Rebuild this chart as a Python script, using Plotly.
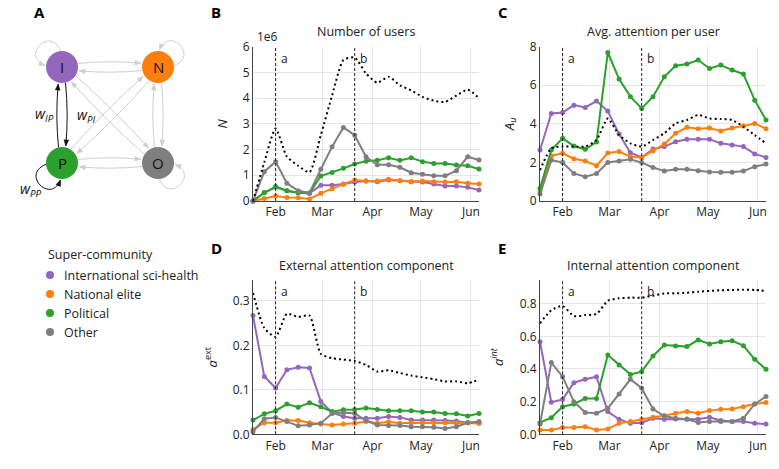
import math
import pandas as pd
import plotly.graph_objects as go

W, H = 779, 469

# ---------------- data ----------------
dates = pd.date_range("2020-01-18", periods=21, freq="7D")
month_ticks = ["2020-02-01", "2020-03-01", "2020-04-01", "2020-05-01", "2020-06-01"]
month_labels = ["Feb", "Mar", "Apr", "May", "Jun"]
event_dates = ["2020-02-01", "2020-03-21"]
event_labels = ["a", "b"]

groups = ["International sci-health", "National elite", "Political", "Other"]
colors = ["#9467bd", "#ff7f0e", "#2ca02c", "#7f7f7f"]

# B: number of users (x1e6)
users_intl = [0.0, 0.33, 0.53, 0.40, 0.32, 0.30, 0.61, 0.61, 0.66, 0.74, 0.78, 0.75, 0.82, 0.79, 0.75, 0.74, 0.66, 0.58, 0.58, 0.53, 0.43]
users_nat = [0.0, 0.10, 0.19, 0.14, 0.13, 0.08, 0.30, 0.48, 0.65, 0.82, 0.78, 0.78, 0.85, 0.79, 0.75, 0.78, 0.75, 0.74, 0.75, 0.69, 0.66]
users_pol = [0.0, 0.32, 0.56, 0.40, 0.32, 0.30, 0.97, 1.11, 1.27, 1.44, 1.55, 1.58, 1.68, 1.58, 1.68, 1.53, 1.46, 1.46, 1.40, 1.37, 1.24]
users_oth = [0.0, 1.14, 1.53, 0.69, 0.40, 0.32, 1.23, 2.11, 2.86, 2.56, 1.72, 1.41, 1.41, 1.31, 1.10, 1.04, 0.98, 0.98, 1.18, 1.72, 1.59]
users_total = [0.0, 1.50, 2.82, 1.72, 1.37, 1.12, 2.56, 4.10, 5.48, 5.58, 4.96, 4.60, 4.83, 4.50, 4.30, 4.05, 3.90, 3.85, 4.10, 4.33, 4.00]

# C: average attention per user
att_intl = [2.64, 4.54, 4.59, 4.97, 4.85, 5.18, 4.66, 3.47, 2.50, 2.26, 2.69, 2.82, 3.07, 3.20, 3.20, 3.20, 2.99, 2.90, 2.82, 2.44, 2.26]
att_nat = [0.52, 2.35, 2.47, 2.19, 2.07, 1.83, 2.49, 2.56, 2.30, 2.26, 2.61, 2.95, 3.51, 3.82, 3.75, 3.78, 3.63, 3.78, 3.89, 4.02, 3.75]
att_pol = [0.66, 2.64, 3.25, 2.85, 2.68, 3.06, 7.70, 6.32, 5.41, 4.80, 5.41, 6.44, 7.01, 7.10, 7.31, 6.87, 7.05, 6.79, 6.58, 5.23, 4.20]
att_oth = [0.36, 2.12, 2.00, 1.43, 1.26, 1.42, 2.00, 2.07, 2.16, 1.99, 1.74, 1.55, 1.64, 1.64, 1.57, 1.50, 1.49, 1.49, 1.55, 1.78, 1.92]
att_total = [1.60, 2.73, 2.82, 2.82, 2.82, 3.16, 4.28, 3.42, 2.99, 2.82, 3.16, 3.51, 4.02, 4.20, 4.46, 4.28, 4.25, 4.20, 3.85, 3.42, 2.99]

# D: external attention component
ext_intl = [0.267, 0.130, 0.104, 0.145, 0.151, 0.149, 0.074, 0.049, 0.040, 0.036, 0.036, 0.036, 0.040, 0.038, 0.032, 0.032, 0.032, 0.031, 0.030, 0.026, 0.025]
ext_nat = [0.011, 0.026, 0.026, 0.031, 0.031, 0.026, 0.023, 0.021, 0.023, 0.025, 0.029, 0.025, 0.028, 0.025, 0.026, 0.026, 0.026, 0.026, 0.025, 0.026, 0.025]
ext_pol = [0.032, 0.046, 0.053, 0.068, 0.061, 0.071, 0.062, 0.051, 0.055, 0.056, 0.059, 0.056, 0.053, 0.053, 0.053, 0.050, 0.050, 0.047, 0.046, 0.041, 0.047]
ext_oth = [0.006, 0.035, 0.038, 0.029, 0.019, 0.021, 0.025, 0.047, 0.049, 0.047, 0.031, 0.021, 0.020, 0.020, 0.017, 0.017, 0.016, 0.013, 0.017, 0.026, 0.029]
ext_total = [0.318, 0.239, 0.219, 0.271, 0.264, 0.267, 0.181, 0.171, 0.168, 0.165, 0.156, 0.141, 0.144, 0.138, 0.132, 0.128, 0.124, 0.119, 0.119, 0.115, 0.123]

# E: internal attention component
int_intl = [0.567, 0.196, 0.214, 0.316, 0.337, 0.353, 0.139, 0.092, 0.067, 0.071, 0.098, 0.092, 0.094, 0.094, 0.092, 0.104, 0.084, 0.078, 0.078, 0.067, 0.063]
int_nat = [0.027, 0.027, 0.041, 0.041, 0.047, 0.027, 0.033, 0.067, 0.078, 0.092, 0.104, 0.114, 0.129, 0.139, 0.129, 0.145, 0.153, 0.155, 0.169, 0.186, 0.194]
int_pol = [0.071, 0.102, 0.169, 0.186, 0.220, 0.220, 0.486, 0.424, 0.367, 0.384, 0.480, 0.547, 0.541, 0.537, 0.578, 0.553, 0.567, 0.573, 0.543, 0.459, 0.398]
int_oth = [0.063, 0.439, 0.353, 0.200, 0.133, 0.129, 0.159, 0.247, 0.337, 0.282, 0.155, 0.112, 0.098, 0.092, 0.073, 0.078, 0.078, 0.078, 0.098, 0.186, 0.231]
int_total = [0.680, 0.760, 0.786, 0.724, 0.730, 0.737, 0.818, 0.833, 0.837, 0.837, 0.849, 0.863, 0.863, 0.867, 0.873, 0.878, 0.882, 0.884, 0.886, 0.884, 0.878]

panels = [
    dict(series=[users_intl, users_nat, users_pol, users_oth], total=users_total,
         title="Number of users", ytitle="<i>N</i>", yrange=[0, 6], dtick=1, fmt="d", letter="B"),
    dict(series=[att_intl, att_nat, att_pol, att_oth], total=att_total,
         title="Avg. attention per user", ytitle="<i>A<sub>u</sub></i>", yrange=[0, 8], dtick=2, fmt="d", letter="C"),
    dict(series=[ext_intl, ext_nat, ext_pol, ext_oth], total=ext_total,
         title="External attention component", ytitle="<i>a</i><sup>ext</sup>", yrange=[0, 0.347], dtick=0.1, fmt=".1f", letter="D"),
    dict(series=[int_intl, int_nat, int_pol, int_oth], total=int_total,
         title="Internal attention component", ytitle="<i>a<sup>int</sup></i>", yrange=[0, 0.945], dtick=0.2, fmt=".1f", letter="E"),
]

# ---------------- layout geometry (pixels) ----------------
col_x = [(253, 479), (540, 766)]
row_y = [(46.7, 201), (280, 434.3)]
letter_top = [0, 236]
cells = [(0, 0), (1, 0), (0, 1), (1, 1)]
title_standoff = [12, 12, 12, 13]

FONT = "Open Sans, Noto Sans, DejaVu Sans, sans-serif"
fig = go.Figure()
layout = dict(width=W, height=H, autosize=False, margin=dict(l=0, r=0, t=0, b=0),
              paper_bgcolor="white", plot_bgcolor="white", showlegend=False,
              font=dict(family=FONT, size=12, color="#222"))
annotations = []
shapes = []

for i, p in enumerate(panels):
    c, r = cells[i]
    xa = "x" if i == 0 else f"x{i+1}"
    ya = "y" if i == 0 else f"y{i+1}"
    xk = "xaxis" if i == 0 else f"xaxis{i+1}"
    yk = "yaxis" if i == 0 else f"yaxis{i+1}"
    x0, x1 = col_x[c]
    y0, y1 = row_y[r]
    layout[xk] = dict(domain=[x0 / W, x1 / W], range=[dates[0], dates[-1]], anchor=ya,
                      tickvals=month_ticks, ticktext=month_labels, showgrid=True,
                      gridcolor="#e6e6e6", showline=True, linecolor="#444", linewidth=1,
                      ticks="", zeroline=False, tickfont=dict(size=12, color="#222"), automargin=False)
    layout[yk] = dict(domain=[1 - y1 / H, 1 - y0 / H], range=p["yrange"], anchor=xa,
                      dtick=p["dtick"], tick0=0, tickformat=p["fmt"], showgrid=True,
                      gridcolor="#e6e6e6", showline=True, linecolor="#444", linewidth=1,
                      ticks="", zeroline=False, tickfont=dict(size=12, color="#222"), automargin=False,
                      title=dict(text=p["ytitle"], font=dict(size=13), standoff=title_standoff[i]))
    for s, col in zip(p["series"], colors):
        fig.add_trace(go.Scatter(x=dates, y=s, mode="lines+markers", xaxis=xa, yaxis=ya,
                                 line=dict(color=col, width=2), marker=dict(color=col, size=5),
                                 cliponaxis=False, hoverinfo="skip"))
    fig.add_trace(go.Scatter(x=dates, y=p["total"], mode="lines", xaxis=xa, yaxis=ya,
                             line=dict(color="black", width=2, dash="2px,3px", shape="spline", smoothing=0.6),
                             cliponaxis=False, hoverinfo="skip"))
    for d, lab in zip(event_dates, event_labels):
        shapes.append(dict(type="line", xref=xa, yref=f"{ya} domain", x0=d, x1=d, y0=0, y1=1,
                           line=dict(color="#222", width=1, dash="3px,2px")))
        annotations.append(dict(xref=xa, yref=f"{ya} domain", x=d, y=1, xanchor="left", yanchor="top",
                                xshift=3, yshift=-1, text=lab, showarrow=False, font=dict(size=12)))
    annotations.append(dict(xref="paper", yref="paper", x=(x0 + x1) / 2 / W, y=1 - (y0 - 15) / H,
                            text=p["title"], showarrow=False, xanchor="center", yanchor="middle",
                            font=dict(size=12.5)))
    annotations.append(dict(xref="paper", yref="paper", x=(x0 - 44) / W, y=1 - letter_top[r] / H,
                            text=f"<b>{p['letter']}</b>", showarrow=False, xanchor="left", yanchor="top",
                            font=dict(size=15, color="black")))

annotations.append(dict(xref="paper", yref="paper", x=255 / W, y=1 - 37 / H, text="1e6",
                        showarrow=False, xanchor="left", yanchor="middle", font=dict(size=12)))
annotations.append(dict(xref="paper", yref="paper", x=32 / W, y=1, text="<b>A</b>",
                        showarrow=False, xanchor="left", yanchor="top", font=dict(size=15, color="black")))

# ---------------- diagram (panel A) + legend, pixel-like axes ----------------
layout["xaxis5"] = dict(domain=[0, 200 / W], range=[0, 200], visible=False, fixedrange=True, anchor="y5")
layout["yaxis5"] = dict(domain=[1 - 360 / H, 1], range=[360, 0], visible=False, fixedrange=True, anchor="x5")

node_names = ["I", "N", "P", "O"]
node_pos = {"I": (62, 67), "N": (158, 67), "P": (62, 163), "O": (158, 163)}
node_color = {"I": colors[0], "N": colors[1], "P": colors[2], "O": colors[3]}
R = 16
loop_dir = {"I": 225, "N": 315, "O": 45, "P": 135}
dark_edges = {("I", "P"), ("P", "I"), ("P", "P")}
GREY = "#cfcfcf"


def head(x, y, tx, ty, col):
    L = math.hypot(tx, ty)
    ux, uy = tx / L, ty / L
    bx, by = x - 6 * ux, y - 6 * uy
    lx, ly = bx + 2.4 * uy, by - 2.4 * ux
    rx, ry = bx - 2.4 * uy, by + 2.4 * ux
    shapes.append(dict(type="path", xref="x5", yref="y5", layer="below",
                       path=f"M {x:.2f},{y:.2f} L {lx:.2f},{ly:.2f} L {rx:.2f},{ry:.2f} Z",
                       fillcolor=col, line=dict(color=col, width=0.5)))


for a in node_names:
    for b in node_names:
        col = "#111" if (a, b) in dark_edges else GREY
        if a == b:
            cx, cy = node_pos[a]
            phi = math.radians(loop_dir[a])
            al, be, D = math.radians(40), math.radians(30), 43
            s = (cx + R * math.cos(phi + al), cy + R * math.sin(phi + al))
            e = (cx + (R + 1) * math.cos(phi - al), cy + (R + 1) * math.sin(phi - al))
            c1 = (cx + D * math.cos(phi + be), cy + D * math.sin(phi + be))
            c2 = (cx + D * math.cos(phi - be), cy + D * math.sin(phi - be))
            shapes.append(dict(type="path", xref="x5", yref="y5", layer="below",
                               path=f"M {s[0]:.2f},{s[1]:.2f} C {c1[0]:.2f},{c1[1]:.2f} {c2[0]:.2f},{c2[1]:.2f} {e[0]:.2f},{e[1]:.2f}",
                               line=dict(color=col, width=1)))
            head(e[0], e[1], e[0] - c2[0], e[1] - c2[1], col)
            continue
        x0, y0 = node_pos[a]
        x1, y1 = node_pos[b]
        L = math.hypot(x1 - x0, y1 - y0)
        ux, uy = (x1 - x0) / L, (y1 - y0) / L
        nx, ny = uy, -ux
        t = 0.22
        ct, st = math.cos(t), math.sin(t)
        s = (x0 + R * (ux * ct + nx * st), y0 + R * (uy * ct + ny * st))
        e = (x1 + (R + 1.5) * (-ux * ct + nx * st), y1 + (R + 1.5) * (-uy * ct + ny * st))
        m = ((s[0] + e[0]) / 2 + nx * 3, (s[1] + e[1]) / 2 + ny * 3)
        shapes.append(dict(type="path", xref="x5", yref="y5", layer="below",
                           path=f"M {s[0]:.2f},{s[1]:.2f} Q {m[0]:.2f},{m[1]:.2f} {e[0]:.2f},{e[1]:.2f}",
                           line=dict(color=col, width=1)))
        head(e[0], e[1], e[0] - m[0], e[1] - m[1], col)

for n in node_names:
    cx, cy = node_pos[n]
    shapes.append(dict(type="circle", xref="x5", yref="y5", x0=cx - R, x1=cx + R, y0=cy - R, y1=cy + R,
                       fillcolor=node_color[n], line=dict(width=0), layer="above"))
    annotations.append(dict(x=cx, y=cy, xref="x5", yref="y5", text=n, showarrow=False,
                            font=dict(size=15, color="#111"), xanchor="center", yanchor="middle"))

edge_labels = ["<i>w</i><sub><i>IP</i></sub>", "<i>w</i><sub><i>PI</i></sub>", "<i>w</i><sub><i>PP</i></sub>"]
edge_label_pos = [(44, 114), (86, 115), (31, 189)]
for lab, (lx, ly) in zip(edge_labels, edge_label_pos):
    annotations.append(dict(x=lx, y=ly, xref="x5", yref="y5", text=lab, showarrow=False,
                            font=dict(size=14, color="#111"), xanchor="center", yanchor="middle"))

# legend (manual)
legend_title = "Super-community"
legend_y = [275, 294, 313, 332]
annotations.append(dict(x=46, y=254, xref="x5", yref="y5", text=legend_title, showarrow=False,
                        xanchor="left", yanchor="middle", font=dict(size=12.5)))
fig.add_trace(go.Scatter(x=[50] * 4, y=legend_y, mode="markers", xaxis="x5", yaxis="y5",
                         marker=dict(color=colors, size=8), hoverinfo="skip", cliponaxis=False))
for g, ly in zip(groups, legend_y):
    annotations.append(dict(x=62, y=ly, xref="x5", yref="y5", text=g, showarrow=False,
                            xanchor="left", yanchor="middle", font=dict(size=12.5)))

layout["annotations"] = annotations
layout["shapes"] = shapes
fig.update_layout(**layout)
fig.write_html("out.html", config={"displayModeBar": False},
               post_script="document.body.style.margin='0px';document.body.style.overflow='hidden';")
